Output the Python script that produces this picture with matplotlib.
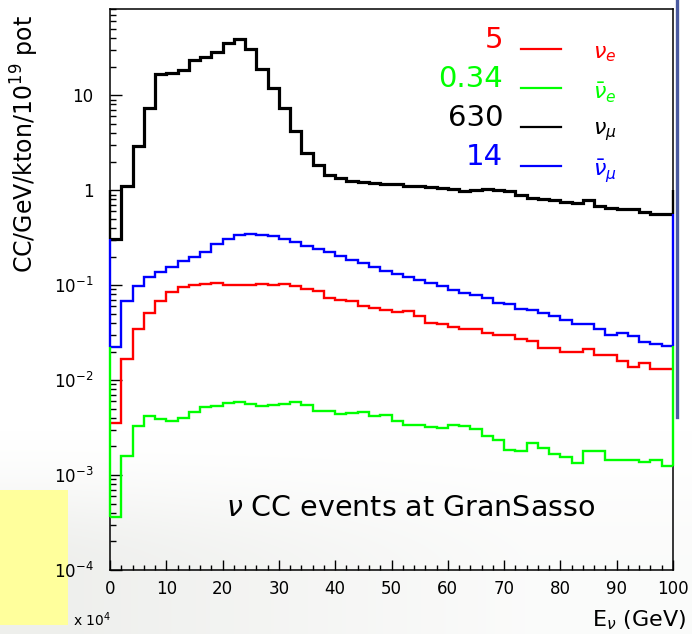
import matplotlib.pyplot as plt
import numpy as np
from matplotlib.lines import Line2D
from matplotlib.patches import Rectangle
from matplotlib.ticker import FuncFormatter, LogLocator, MultipleLocator, NullFormatter

# CC rates per 2 GeV energy bin, 0-100 GeV
bin_width = 2
edges = np.arange(0, 100 + bin_width, bin_width)

numu = [0.307, 1.10, 2.91, 7.4, 16.7, 17.3, 18.6, 23.6, 25.5, 28.5,
        35.2, 39.4, 30.5, 19.1, 11.9, 7.35, 4.25, 2.46, 1.83, 1.46,
        1.35, 1.25, 1.22, 1.20, 1.17, 1.15, 1.12, 1.10, 1.075, 1.05,
        1.02, 0.976, 1.0, 1.02, 1.0, 0.99, 0.90, 0.825, 0.805, 0.78,
        0.75, 0.725, 0.786, 0.68, 0.65, 0.637, 0.63, 0.588, 0.556, 0.556]

anumu = [0.0225, 0.0677, 0.0973, 0.122, 0.137, 0.157, 0.178, 0.197, 0.222, 0.272,
         0.307, 0.338, 0.346, 0.340, 0.330, 0.307, 0.288, 0.261, 0.241, 0.222,
         0.202, 0.185, 0.171, 0.154, 0.141, 0.132, 0.122, 0.112, 0.105, 0.0988,
         0.0883, 0.0828, 0.0782, 0.074, 0.065, 0.0635, 0.0563, 0.055, 0.0515, 0.0471,
         0.0432, 0.0386, 0.0386, 0.0342, 0.0301, 0.0316, 0.0291, 0.0252, 0.0242, 0.0227]

nue = [0.00355, 0.0166, 0.0342, 0.0507, 0.0677, 0.084, 0.0964, 0.100, 0.103, 0.106,
       0.101, 0.100, 0.101, 0.103, 0.100, 0.104, 0.097, 0.0904, 0.0876, 0.0727,
       0.0705, 0.0677, 0.061, 0.058, 0.055, 0.0519, 0.0528, 0.0471, 0.0402, 0.0389,
       0.0365, 0.0349, 0.0342, 0.0316, 0.0301, 0.0296, 0.0269, 0.0256, 0.022, 0.0219,
       0.020, 0.020, 0.0213, 0.0186, 0.0183, 0.0159, 0.0139, 0.015, 0.0132, 0.0131]

anue = [0.000359, 0.00159, 0.00327, 0.00417, 0.00391, 0.00372, 0.00403, 0.00462, 0.00525, 0.00539,
        0.00574, 0.00589, 0.00557, 0.00536, 0.00545, 0.00557, 0.00593, 0.0055, 0.00477, 0.0047,
        0.00437, 0.00449, 0.0046, 0.00423, 0.00434, 0.00375, 0.00335, 0.00338, 0.00324, 0.00314,
        0.00338, 0.00327, 0.00302, 0.00255, 0.00233, 0.00185, 0.00181, 0.00215, 0.00191, 0.00168,
        0.00154, 0.00134, 0.00179, 0.00179, 0.00143, 0.00144, 0.00144, 0.00136, 0.00143, 0.00125]

# integrated rates written next to each flavour
totals = ["5", "0.34", "630", "14"]
flavours = [r"$\nu_e$", r"$\bar{\nu}_e$", r"$\nu_\mu$", r"$\bar{\nu}_\mu$"]

RED, GREEN, BLACK, BLUE = "#ff0000", "#00ff00", "#000000", "#0000ff"
key_colors = [RED, GREEN, BLACK, BLUE]

W, H = 692, 634
fig = plt.figure(figsize=(W / 100, H / 100), dpi=100)
fig.patch.set_facecolor("white")

# soft grey wash behind the lower part of the slide
yy, xx = np.mgrid[0:H, 0:W]
t = np.clip((yy - 430) / 140.0, 0, 1)
t = t * t * (3 - 2 * t)
w = np.clip(1.1 - xx / 620.0, 0.25, 1.0)
g = 0.065 * t * w
haze = np.dstack([1 - g, 1 - g * 0.95, 1 - g * 1.1])
fig.figimage(np.clip(haze, 0, 1), xo=0, yo=0, origin="upper", zorder=-10)

fig.patches.append(Rectangle((0, 1 - 625 / H), 68 / W, 135 / H, transform=fig.transFigure,
                             facecolor="#ffff9c", edgecolor="none", zorder=-5))
fig.add_artist(Line2D([677 / W, 677 / W], [1.0, 1 - 417 / H], transform=fig.transFigure,
                      color="#4a5aa0", lw=2.4, zorder=-5))

ax = fig.add_axes((110 / W, 64 / H, 563 / W, 560.5 / H))
ax.set_zorder(1)
ax.set_facecolor("none")
ax.set_yscale("log")
ax.set_xlim(0, 100)
ax.set_ylim(1e-4, 80)

ax.stairs(numu, edges, baseline=None, color=BLACK, lw=2.3, zorder=3)
ax.stairs(nue, edges, baseline=None, color=RED, lw=1.7, zorder=3)
ax.stairs(anue, edges, baseline=None, color=GREEN, lw=1.7, zorder=3)
ax.stairs(anumu, edges, baseline=None, color=BLUE, lw=1.7, zorder=3)

# outer bin edges run along the frame
for xe, i in ((0, 0), (100, -1)):
    ax.vlines(xe, numu[i], 1, color=BLACK, lw=1.7, zorder=4, clip_on=False)
    ax.vlines(xe, anumu[i], numu[i], color=BLUE, lw=1.7, zorder=4, clip_on=False)
    ax.vlines(xe, anue[i], anumu[i], color=GREEN, lw=1.7, zorder=4, clip_on=False)

for s in ax.spines.values():
    s.set_linewidth(1.1)

ax.xaxis.set_major_locator(MultipleLocator(10))
ax.xaxis.set_minor_locator(MultipleLocator(2))
ax.yaxis.set_major_locator(LogLocator(base=10, numticks=10))
ax.yaxis.set_minor_locator(LogLocator(base=10, subs=np.arange(2, 10), numticks=20))
ax.yaxis.set_minor_formatter(NullFormatter())


def decade_label(v, pos):
    e = int(round(np.log10(v)))
    if e == 1:
        return "10"
    if e == 0:
        return "1"
    return r"$10^{%d}$" % e


ax.yaxis.set_major_formatter(FuncFormatter(decade_label))
ax.tick_params(axis="y", which="major", direction="in", length=8.5, width=1, pad=12, labelsize=12)
ax.tick_params(axis="y", which="minor", direction="in", length=4.5, width=1)
ax.tick_params(axis="x", which="major", direction="in", length=7, width=1, pad=7, labelsize=12)
ax.tick_params(axis="x", which="minor", direction="in", length=3.6, width=1)
ax.tick_params(top=False, right=False, which="both")

fig.text(25 / W, 1 - 144 / H, r"CC/GeV/kton/10$^{19}$ pot", rotation=90,
         ha="center", va="center", fontsize=17)
fig.text(686 / W, 1 - 620 / H, r"E$_\nu$ (GeV)", ha="right", va="center", fontsize=16)
fig.text(73 / W, 1 - 620 / H, r"x 10$^4$", ha="left", va="center", fontsize=10)
fig.text(226 / W, 1 - 508 / H, r"$\nu$ CC events at GranSasso", ha="left", va="center", fontsize=20.5)

# flavour key: integrated rate, line sample, symbol
for k, (tot, name, c) in enumerate(zip(totals, flavours, key_colors)):
    y0 = 40 + 39 * k
    fig.text(503 / W, 1 - y0 / H, tot, color=c, ha="right", va="center", fontsize=21)
    fig.add_artist(Line2D([521 / W, 561 / W], [1 - (y0 + 9) / H] * 2,
                          transform=fig.transFigure, color=c, lw=1.6))
    fig.text(593 / W, 1 - (y0 + 14) / H, name, color=c, ha="left", va="center", fontsize=16)

fig.savefig("out.png", dpi=100)
